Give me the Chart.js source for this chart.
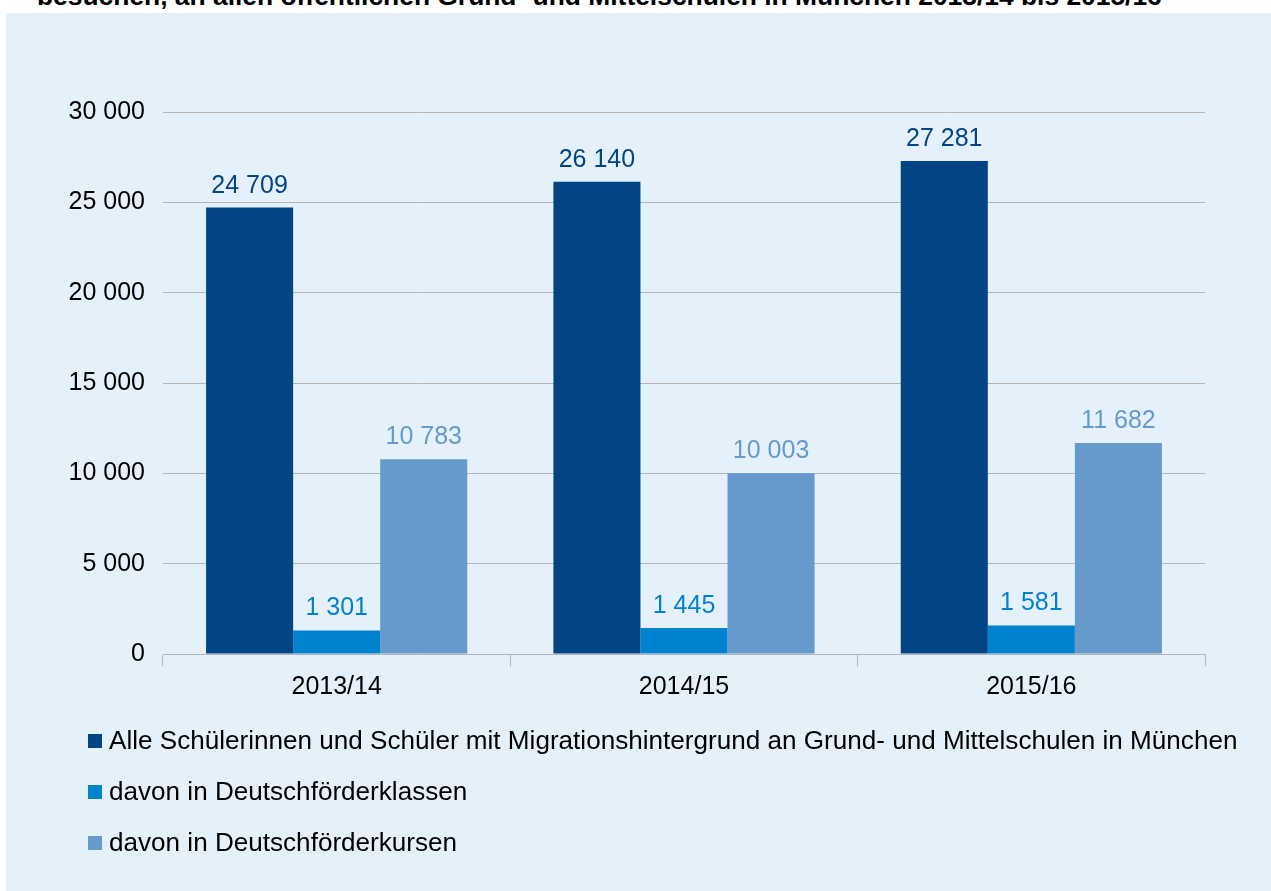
<!DOCTYPE html>
<html lang="de">
<head>
<meta charset="utf-8">
<title>Deutschförderung an Grund- und Mittelschulen</title>
<script src="https://cdn.jsdelivr.net/npm/chart.js@4.4.1/dist/chart.umd.min.js"></script>
<style>
  html, body { margin: 0; padding: 0; background: #fff; overflow: hidden; }
  body { width: 1271px; height: 891px; position: relative; font-family: "Liberation Sans", Arial, sans-serif; }
  #headline {
    position: absolute; left: 37px; top: -17px; white-space: nowrap;
    font-size: 26.4px; line-height: 1; font-weight: bold; color: #000;
  }
  #panel { position: absolute; left: 6px; top: 13px; right: 0; bottom: 0; background: #E5F1FA; }
  #chartBox { position: absolute; left: 0; top: 0; width: 1271px; height: 720px; }
  #legend { position: absolute; left: 88px; top: 715px; }
  .item { display: flex; align-items: center; height: 51px; font-size: 26.1px; color: #000; }
  .box { width: 14px; height: 14px; margin-right: 7px; }
</style>
</head>
<body>
<div id="headline">besuchen, an allen öffentlichen Grund- und Mittelschulen in München 2013/14 bis 2015/16</div>
<div id="panel"></div>
<div id="chartBox"><canvas id="chart"></canvas></div>
<div id="legend"></div>

<script>
const years = ['2013/14', '2014/15', '2015/16'];
const allStudents = [24709, 26140, 27281];
const inClasses = [1301, 1445, 1581];
const inCourses = [10783, 10003, 11682];

const seriesNames = [
  'Alle Schülerinnen und Schüler mit Migrationshintergrund an Grund- und Mittelschulen in München',
  'davon in Deutschförderklassen',
  'davon in Deutschförderkursen'
];
const colors = ['#024585', '#0083CF', '#6699CC'];
const yTicks = [0, 5000, 10000, 15000, 20000, 25000, 30000];

const gridGray = '#B4B4B4';
const fontFamily = '"Liberation Sans", Arial, sans-serif';

// 24709 -> "24 709"
function fmt(v) {
  return String(v).replace(/\B(?=(\d{3})+(?!\d))/g, ' ');
}

// value labels above each bar, in the bar colour
const valueLabels = {
  id: 'valueLabels',
  afterDatasetsDraw(chart) {
    const ctx = chart.ctx;
    ctx.save();
    ctx.font = '25px ' + fontFamily;
    ctx.textAlign = 'center';
    ctx.textBaseline = 'alphabetic';
    chart.data.datasets.forEach((ds, i) => {
      chart.getDatasetMeta(i).data.forEach((bar, j) => {
        ctx.fillStyle = ds.backgroundColor;
        ctx.fillText(fmt(ds.data[j]), bar.x, bar.y - 15);
      });
    });
    ctx.restore();
  }
};

// legend as a plain list below the chart
const htmlLegend = {
  id: 'htmlLegend',
  afterUpdate(chart) {
    const box = document.getElementById('legend');
    box.innerHTML = '';
    chart.data.datasets.forEach(ds => {
      const row = document.createElement('div');
      row.className = 'item';
      const sw = document.createElement('span');
      sw.className = 'box';
      sw.style.background = ds.backgroundColor;
      const txt = document.createElement('span');
      txt.textContent = ds.label;
      row.appendChild(sw);
      row.appendChild(txt);
      box.appendChild(row);
    });
  }
};

const seriesValues = [allStudents, inClasses, inCourses];

new Chart(document.getElementById('chart'), {
  type: 'bar',
  data: {
    labels: years,
    datasets: seriesValues.map((vals, i) => ({
      label: seriesNames[i],
      data: vals,
      backgroundColor: colors[i],
      borderWidth: 0,
      categoryPercentage: 0.752,
      barPercentage: 1
    }))
  },
  options: {
    responsive: true,
    maintainAspectRatio: false,
    animation: false,
    layout: { padding: { top: 112, right: 66, left: 0, bottom: 0 } },
    plugins: {
      legend: { display: false },
      tooltip: { enabled: false }
    },
    scales: {
      x: {
        grid: {
          offset: true,
          drawOnChartArea: false,
          drawTicks: true,
          tickLength: 12,
          color: gridGray
        },
        border: { display: true, color: gridGray, width: 1 },
        ticks: {
          color: '#000',
          padding: 6,
          font: { family: fontFamily, size: 25 }
        },
        afterFit(scale) { scale.height = 66; }
      },
      y: {
        min: 0,
        max: 30000,
        afterBuildTicks(scale) { scale.ticks = yTicks.map(v => ({ value: v })); },
        grid: { color: gridGray, drawTicks: false },
        border: { display: false },
        ticks: {
          color: '#000',
          padding: 18,
          font: { family: fontFamily, size: 25 },
          callback: v => fmt(v)
        },
        afterFit(scale) { scale.width = 163; }
      }
    }
  },
  plugins: [valueLabels, htmlLegend]
});
</script>
</body>
</html>
